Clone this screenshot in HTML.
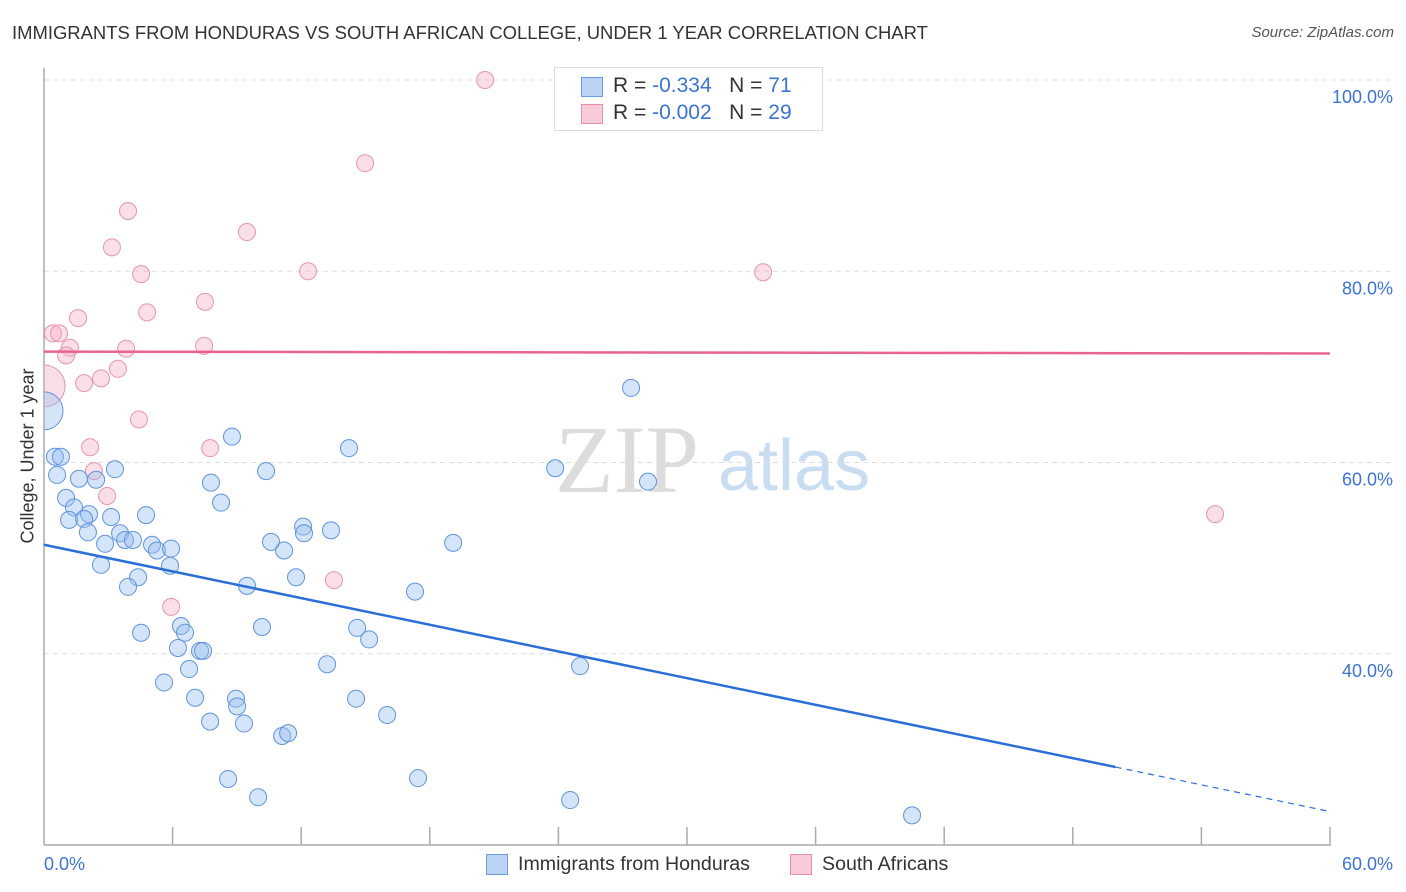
<!DOCTYPE html>
<html><head><meta charset="utf-8"><style>
body{margin:0;background:#fff;font-family:"Liberation Sans",sans-serif;}
#wrap{position:relative;width:1406px;height:892px;overflow:hidden;}
.t{position:absolute;white-space:nowrap;}
</style></head><body><div id="wrap">
<div class="t" style="left:12px;top:22px;font-size:18.45px;color:#333;">IMMIGRANTS FROM HONDURAS VS SOUTH AFRICAN COLLEGE, UNDER 1 YEAR CORRELATION CHART</div>
<div class="t" style="right:12px;top:24px;font-size:15px;color:#555;font-style:italic;">Source: ZipAtlas.com</div>
<svg id="plot" width="1406" height="892" style="position:absolute;left:0;top:0">
<defs><clipPath id="pc"><rect x="44" y="40" width="1362" height="806"/></clipPath></defs>
<text x="555" y="492" font-family="Liberation Serif,serif" font-size="96" fill="#dcdcdc">ZIP</text>
<text x="718" y="490" font-family="Liberation Sans,sans-serif" font-size="72" fill="#c8dcf2">atlas</text>
<g id="grid"></g><g id="axes"></g><g id="pts" clip-path="url(#pc)"></g><g id="trend"></g>
</svg>
<div style="position:absolute;left:554px;top:67px;width:267px;height:62px;border:1px solid #ddd;background:#fff;font-size:21px;">
<div style="position:absolute;left:26px;top:9px;width:20px;height:18px;background:#bcd3f4;border:1px solid #6d9be0"></div>
<div class="t" style="left:58px;top:6px;color:#333">R = <span style="color:#3b74d4">-0.334</span>&nbsp;&nbsp;&nbsp;N = <span style="color:#3b74d4">71</span></div>
<div style="position:absolute;left:26px;top:36px;width:20px;height:18px;background:#f9cbd8;border:1px solid #e890aa"></div>
<div class="t" style="left:58px;top:33px;color:#333">R = <span style="color:#3b74d4">-0.002</span>&nbsp;&nbsp;&nbsp;N = <span style="color:#3b74d4">29</span></div>
</div>
<div class="t" style="left:28px;top:456px;font-size:18px;color:#333;transform:translate(-50%,-50%) rotate(-90deg);">College, Under 1 year</div>
<div style="position:absolute;left:486px;top:853px;font-size:19.6px;color:#333;">
<div style="position:absolute;left:0;top:1px;width:20px;height:19px;background:#bcd3f4;border:1px solid #6d9be0"></div>
<div class="t" style="left:32px;top:0">Immigrants from Honduras</div>
<div style="position:absolute;left:304px;top:1px;width:20px;height:19px;background:#f9cbd8;border:1px solid #e890aa"></div>
<div class="t" style="left:336px;top:0">South Africans</div>
</div>
</div>
<script>
const yTicks=[40,60,80,100];
const yTickLabels=["40.0%","60.0%","80.0%","100.0%"];
const xTickLabels=["0.0%","60.0%"];
const blueX=[27.39,14.23,8.77,23.85,28.18,10.36,3.31,0.51,0.79,0.61,1.63,2.43,1.03,7.79,1.40,8.26,2.10,3.13,4.76,1.17,1.87,2.05,3.55,12.09,13.39,12.13,2.85,3.78,4.15,10.59,11.20,19.09,5.04,5.27,5.93,2.66,5.88,4.39,11.76,3.92,9.47,17.31,4.53,6.39,10.17,6.58,14.61,15.17,6.25,7.28,7.42,13.21,25.01,6.77,5.60,7.05,8.96,9.01,14.56,16.01,7.75,9.33,11.11,11.39,8.59,17.45,9.99,24.55,40.50,0];
const blueY=[67.8,61.5,62.7,59.4,58.0,59.1,59.3,60.6,60.6,58.7,58.3,58.2,56.3,57.9,55.3,55.8,54.6,54.3,54.5,54.0,54.1,52.7,52.6,53.3,52.9,52.6,51.5,51.9,51.9,51.7,50.8,51.6,51.4,50.8,51.0,49.3,49.2,48.0,48.0,47.0,47.1,46.5,42.2,42.9,42.8,42.2,42.7,41.5,40.6,40.3,40.3,38.9,38.7,38.4,37.0,35.4,35.3,34.5,35.3,33.6,32.9,32.7,31.4,31.7,26.9,27.0,25.0,24.7,23.1,65.4];
const blueBig=[69];
const pinkX=[20.58,14.98,3.92,9.47,3.17,4.53,12.32,33.55,4.81,7.51,1.59,0.42,0.70,7.47,1.21,3.83,1.03,3.45,2.66,1.87,4.43,2.15,7.75,2.33,2.94,13.53,5.93,54.64,0];
const pinkY=[100.0,91.3,86.3,84.1,82.5,79.7,80.0,79.9,75.7,76.8,75.1,73.5,73.5,72.2,72.0,71.9,71.2,69.8,68.8,68.3,64.5,61.6,61.5,59.1,56.5,47.7,44.9,54.6,68.0];
const pinkBig=[28];
const blueTrend=[51.4,23.5];
const pinkTrend=[71.6,71.4];
const blueSolidEnd=50;
const X=v=>44+v*(1286/60), Y=v=>845-(v-20)*9.5625;
const NS="http://www.w3.org/2000/svg";
function mk(tag,parent,attrs){const e=document.createElementNS(NS,tag);for(const k in attrs)e.setAttribute(k,attrs[k]);parent.appendChild(e);return e;}
const grid=document.getElementById('grid'),axes=document.getElementById('axes'),pts=document.getElementById('pts'),tr=document.getElementById('trend');
yTicks.forEach((t,i)=>{
 const l=mk('line',grid,{x1:44,x2:1394,y1:Y(t),y2:Y(t),stroke:'#ddd','stroke-dasharray':'5,4'});
 
 
 const tx=mk('text',axes,{x:1393,y:Y(t)+23,'text-anchor':'end','font-size':18,fill:'#3b74d4','font-family':'Liberation Sans,sans-serif'});
 tx.textContent=yTickLabels[i];
 
 
});
mk('line',axes,{x1:44,x2:44,y1:68,y2:845,stroke:'#aaa','stroke-width':1.5});
mk('line',axes,{x1:44,x2:1331,y1:845,y2:845,stroke:'#aaa','stroke-width':1.5});
for(let i=1;i<=10;i++){mk('line',axes,{x1:X(i*6),x2:X(i*6),y1:827,y2:845,stroke:'#aaa','stroke-width':1.5});}
const xl0=mk('text',axes,{x:44,y:870,'font-size':18,fill:'#3b74d4','font-family':'Liberation Sans,sans-serif'});xl0.textContent=xTickLabels[0];


const xl1=mk('text',axes,{x:1393,y:870,'text-anchor':'end','font-size':18,fill:'#3b74d4','font-family':'Liberation Sans,sans-serif'});xl1.textContent=xTickLabels[1];


pinkX.forEach((v,i)=>{
 const c=mk('circle',pts,{cx:X(v),cy:Y(pinkY[i]),r:pinkBig.includes(i)?21:8.5,fill:'rgba(246,176,198,0.4)',stroke:'#e995ae','stroke-width':1});
 
 
});
blueX.forEach((v,i)=>{
 const c=mk('circle',pts,{cx:X(v),cy:Y(blueY[i]),r:blueBig.includes(i)?19:8.5,fill:'rgba(150,190,240,0.4)',stroke:'#5f93e0','stroke-width':1});
 
 
});
const by=x=>blueTrend[0]+(blueTrend[1]-blueTrend[0])*x/60;
const b1=mk('line',tr,{x1:X(0),y1:Y(by(0)),x2:X(blueSolidEnd),y2:Y(by(blueSolidEnd)),stroke:'#2a6fd6','stroke-width':2.5});


const b2=mk('line',tr,{x1:X(blueSolidEnd),y1:Y(by(blueSolidEnd)),x2:X(60),y2:Y(by(60)),stroke:'#2a6fd6','stroke-width':1.2,'stroke-dasharray':'6,5'});


const p1=mk('line',tr,{x1:X(0),y1:Y(pinkTrend[0]),x2:X(60),y2:Y(pinkTrend[1]),stroke:'#e8648f','stroke-width':2.5});


</script></body></html>
